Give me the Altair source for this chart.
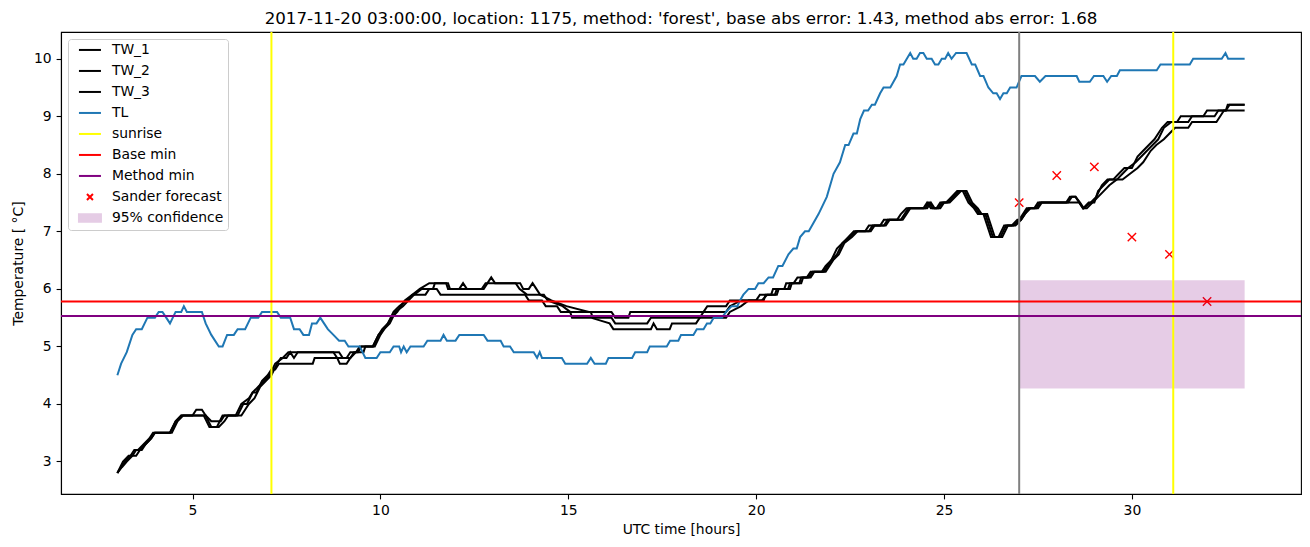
import altair as alt
import pandas as pd

TITLE = "2017-11-20 03:00:00, location: 1175, method: 'forest', base abs error: 1.43, method abs error: 1.68"

# (hour, temperature)
tw1 = [(3.0,2.8),(3.15,3.0),(3.3,3.1),(3.4,3.1),(3.5,3.2),(3.65,3.2),(3.75,3.3),(3.9,3.4),(4.0,3.5),(4.4,3.5),
       (4.55,3.7),(4.7,3.8),(5.0,3.8),(5.1,3.9),(5.25,3.9),(5.35,3.8),(5.5,3.7),(5.75,3.7),(5.85,3.8),(6.15,3.8),
       (6.3,4.0),(6.5,4.1),(6.6,4.2),(6.75,4.3),(6.9,4.4),(7.05,4.5),(7.2,4.7),(7.4,4.8),(7.55,4.9),(8.75,4.9),
       (8.85,4.8),(8.92,4.7),(9.1,4.7),(9.2,4.8),(9.35,4.9),(9.45,5.0),(9.8,5.0),(9.95,5.2),(10.05,5.3),(10.2,5.4),
       (10.35,5.6),(10.5,5.7),(10.7,5.8),(10.85,5.9),(11.05,6.0),(11.3,6.1),(11.8,6.1),(11.85,6.0),(12.1,6.0),(12.2,6.1),
       (12.3,6.0),(12.75,6.0),(12.85,6.1),(12.95,6.2),(13.05,6.1),(13.72,6.1),(13.8,6.0),(13.95,6.0),(14.05,6.1),(14.15,6.0),
       (14.25,5.9),(14.55,5.8),(14.95,5.7),(15.55,5.6),(16.15,5.6),(16.25,5.5),(16.6,5.5),(16.65,5.6),(18.6,5.6),(18.7,5.7),
       (19.2,5.7),(19.3,5.8),(20.2,5.8),(20.25,5.9),(20.5,5.9),(20.55,6.0),(20.85,6.0),(20.9,6.1),(21.15,6.1),(21.2,6.2),
       (21.4,6.2),(21.5,6.3),(21.8,6.3),(21.9,6.4),(22.0,6.5),(22.15,6.6),(22.3,6.8),(22.5,6.9),(22.65,7.0),(23.0,7.0),
       (23.1,7.1),(23.4,7.1),(23.5,7.2),(23.85,7.2),(23.95,7.3),(24.05,7.4),(24.5,7.4),(24.6,7.5),(24.7,7.4),(24.85,7.4),
       (24.95,7.5),(25.1,7.5),(25.25,7.6),(25.4,7.7),(25.55,7.7),(25.7,7.5),(25.85,7.4),(25.95,7.3),(26.1,7.3),(26.3,6.9),
       (26.5,6.9),(26.65,7.1),(26.85,7.1),(27.0,7.2),(27.1,7.3),(27.2,7.4),(27.4,7.4),(27.5,7.5),(28.25,7.5),(28.35,7.6),
       (28.5,7.6),(28.6,7.5),(28.7,7.4),(28.85,7.5),(29.0,7.5),(29.1,7.7),(29.25,7.8),(29.4,7.9),(29.6,7.9),(29.75,8.0),
       (29.9,8.1),(30.1,8.2),(30.25,8.3),(30.4,8.4),(30.55,8.5),(30.7,8.6),(30.85,8.8),(31.05,8.9),(31.5,8.9),(31.6,9.0),
       (32.2,9.0),(32.3,9.1),(32.5,9.1),(32.6,9.2),(33.0,9.2)]

tw2 = [(3.0,2.8),(3.1,2.9),(3.2,3.0),(3.35,3.1),(3.45,3.2),(3.55,3.2),(3.7,3.3),(3.85,3.4),(3.95,3.5),(4.4,3.5),
       (4.55,3.7),(4.7,3.8),(5.3,3.8),(5.45,3.6),(5.65,3.6),(5.8,3.8),(6.2,3.8),(6.35,4.0),(6.45,4.0),(6.6,4.2),
       (6.7,4.2),(6.85,4.4),(7.0,4.5),(7.1,4.6),(7.2,4.6),(7.3,4.7),(8.2,4.7),(8.25,4.8),(9.1,4.8),(9.2,4.9),
       (9.4,4.9),(9.5,5.0),(9.85,5.0),(10.0,5.2),(10.1,5.3),(10.25,5.4),(10.4,5.6),(10.6,5.7),(10.75,5.8),(10.9,5.9),
       (11.1,6.0),(11.4,6.0),(11.45,6.1),(11.75,6.1),(11.8,6.0),(12.7,6.0),(12.8,6.1),(13.6,6.1),(13.7,6.0),(13.9,5.9),
       (14.35,5.9),(14.45,5.8),(14.85,5.7),(15.05,5.6),(15.6,5.6),(15.65,5.5),(16.15,5.5),(16.25,5.4),(17.1,5.4),(17.2,5.5),
       (18.5,5.5),(18.6,5.6),(19.2,5.6),(19.3,5.7),(19.6,5.8),(20.0,5.8),(20.1,5.9),(20.4,5.9),(20.45,6.0),(20.75,6.0),
       (20.8,6.1),(21.0,6.1),(21.1,6.2),(21.35,6.2),(21.45,6.3),(21.75,6.3),(21.85,6.4),(22.0,6.5),(22.15,6.7),(22.3,6.8),
       (22.45,6.9),(22.6,7.0),(22.9,7.0),(23.0,7.1),(23.3,7.1),(23.4,7.2),(23.75,7.2),(23.85,7.3),(24.0,7.4),(24.45,7.4),
       (24.55,7.5),(24.65,7.4),(24.8,7.4),(24.9,7.5),(25.05,7.5),(25.2,7.6),(25.35,7.7),(25.5,7.7),(25.65,7.5),(25.8,7.4),
       (25.9,7.3),(26.05,7.3),(26.25,6.9),(26.45,6.9),(26.6,7.1),(26.8,7.1),(26.95,7.2),(27.05,7.2),(27.15,7.3),(27.25,7.4),
       (27.45,7.4),(27.55,7.5),(28.3,7.5),(28.4,7.6),(28.5,7.6),(28.62,7.5),(28.72,7.4),(28.9,7.5),(29.05,7.6),(29.2,7.8),
       (29.35,7.9),(29.5,7.9),(29.65,8.0),(29.8,8.1),(30.0,8.1),(30.15,8.3),(30.3,8.4),(30.45,8.5),(30.6,8.6),(30.8,8.8),
       (30.95,8.9),(31.2,8.9),(31.3,9.0),(31.9,9.0),(32.0,9.1),(32.5,9.1),(32.55,9.2),(33.0,9.2)]

tw3 = [(3.0,2.8),(3.12,2.9),(3.25,3.0),(3.4,3.1),(3.5,3.1),(3.6,3.2),(3.75,3.3),(3.9,3.4),(4.0,3.5),(4.45,3.5),
       (4.6,3.7),(4.75,3.8),(5.35,3.8),(5.5,3.6),(5.7,3.6),(5.85,3.7),(5.95,3.8),(6.3,3.8),(6.4,3.9),(6.5,4.0),
       (6.65,4.1),(6.8,4.3),(6.95,4.4),(7.1,4.5),(7.25,4.7),(7.35,4.8),(7.5,4.8),(7.6,4.9),(7.7,4.8),(7.8,4.9),
       (8.9,4.9),(9.0,4.8),(9.2,4.8),(9.3,4.9),(9.55,4.9),(9.6,5.0),(9.8,5.0),(9.95,5.2),(10.1,5.3),(10.3,5.5),
       (10.45,5.6),(10.65,5.8),(10.85,5.9),(11.2,5.9),(11.3,6.0),(11.5,6.0),(11.6,5.9),(13.85,5.9),(13.95,5.8),(14.3,5.8),
       (14.4,5.7),(14.7,5.7),(14.8,5.6),(15.05,5.6),(15.1,5.5),(15.6,5.5),(16.1,5.4),(16.2,5.3),(17.2,5.3),(17.27,5.4),
       (17.36,5.3),(17.7,5.3),(17.76,5.4),(18.4,5.4),(18.5,5.5),(19.2,5.5),(19.3,5.6),(19.6,5.7),(19.8,5.8),(20.15,5.8),
       (20.3,5.9),(20.55,5.9),(20.6,6.0),(20.9,6.0),(20.95,6.1),(21.2,6.1),(21.25,6.2),(21.45,6.2),(21.55,6.3),(21.85,6.3),
       (21.95,6.4),(22.05,6.5),(22.2,6.6),(22.35,6.8),(22.55,6.9),(22.7,7.0),(23.05,7.0),(23.15,7.1),(23.45,7.1),(23.55,7.2),
       (23.9,7.2),(24.0,7.3),(24.1,7.4),(24.55,7.4),(24.65,7.5),(24.75,7.4),(24.9,7.4),(25.0,7.5),(25.15,7.5),(25.3,7.6),
       (25.45,7.7),(25.6,7.7),(25.75,7.5),(25.9,7.4),(26.0,7.3),(26.15,7.3),(26.35,6.9),(26.55,6.9),(26.7,7.1),(26.9,7.1),
       (27.05,7.2),(27.15,7.3),(27.3,7.4),(27.5,7.4),(27.6,7.5),(28.6,7.5),(28.7,7.4),(28.8,7.4),(28.95,7.5),(29.1,7.6),
       (29.25,7.7),(29.4,7.8),(29.6,7.9),(29.75,7.9),(29.95,8.0),(30.15,8.1),(30.3,8.2),(30.5,8.4),(30.65,8.5),(30.85,8.6),
       (31.0,8.7),(31.15,8.8),(31.5,8.8),(31.6,8.9),(32.25,8.9),(32.35,9.0),(32.45,9.1),(33.0,9.1)]

tl = [(3.0,4.5),(3.1,4.7),(3.25,4.9),(3.4,5.2),(3.5,5.3),(3.65,5.3),(3.8,5.5),(4.0,5.5),(4.1,5.6),(4.2,5.6),
      (4.3,5.5),(4.4,5.4),(4.55,5.6),(4.7,5.6),(4.77,5.7),(4.85,5.6),(5.25,5.6),(5.35,5.4),(5.5,5.2),(5.7,5.0),
      (5.8,5.0),(5.92,5.2),(6.1,5.2),(6.2,5.3),(6.4,5.3),(6.55,5.5),(6.75,5.5),(6.85,5.6),(7.25,5.6),(7.35,5.5),
      (7.6,5.5),(7.7,5.3),(7.85,5.3),(7.95,5.2),(8.1,5.2),(8.18,5.4),(8.3,5.4),(8.4,5.5),(8.5,5.4),(8.6,5.3),
      (8.75,5.2),(8.9,5.1),(9.05,5.1),(9.15,5.0),(9.45,5.0),(9.6,4.8),(9.9,4.8),(10.0,4.9),(10.25,4.9),(10.35,5.0),
      (10.5,5.0),(10.55,4.9),(10.62,5.0),(10.7,4.9),(10.8,5.0),(11.15,5.0),(11.25,5.1),(11.6,5.1),(11.68,5.2),(11.77,5.1),
      (12.0,5.1),(12.1,5.2),(12.75,5.2),(12.85,5.1),(13.2,5.1),(13.28,5.0),(13.45,5.0),(13.55,4.9),(14.08,4.9),(14.17,4.8),
      (14.24,4.9),(14.3,4.8),(14.83,4.8),(14.92,4.7),(15.5,4.7),(15.6,4.8),(15.7,4.7),(16.0,4.7),(16.07,4.8),(16.7,4.8),
      (16.78,4.9),(17.1,4.9),(17.17,5.0),(17.62,5.0),(17.71,5.1),(17.93,5.1),(18.0,5.2),(18.33,5.2),(18.42,5.3),(18.6,5.3),
      (18.69,5.4),(18.78,5.4),(18.87,5.5),(19.09,5.5),(19.2,5.6),(19.35,5.7),(19.5,5.7),(19.57,5.8),(19.66,5.9),(19.8,6.0),
      (19.97,6.0),(20.06,6.1),(20.2,6.1),(20.33,6.2),(20.45,6.2),(20.59,6.4),(20.7,6.4),(20.86,6.6),(20.99,6.7),(21.08,6.7),
      (21.17,6.9),(21.3,7.0),(21.4,7.0),(21.66,7.3),(21.88,7.6),(22.06,8.0),(22.23,8.2),(22.37,8.5),(22.46,8.5),(22.59,8.7),
      (22.68,8.7),(22.77,8.95),(22.87,9.1),(22.98,9.1),(23.08,9.2),(23.16,9.2),(23.3,9.4),(23.39,9.5),(23.57,9.5),(23.74,9.7),
      (23.83,9.9),(23.92,9.9),(24.1,10.1),(24.18,10.0),(24.27,10.0),(24.36,10.1),(24.45,10.1),(24.54,10.0),(24.67,10.0),(24.76,9.9),
      (24.85,9.9),(24.94,10.0),(25.03,10.0),(25.11,10.1),(25.2,10.0),(25.32,10.1),(25.6,10.1),(25.74,9.9),(25.83,9.9),(25.96,9.7),
      (26.05,9.7),(26.18,9.5),(26.31,9.4),(26.4,9.4),(26.49,9.3),(26.58,9.4),(26.67,9.4),(26.76,9.5),(26.93,9.5),(27.06,9.7),
      (27.42,9.7),(27.55,9.6),(27.7,9.7),(28.53,9.7),(28.6,9.6),(28.88,9.6),(28.99,9.7),(29.24,9.7),(29.34,9.6),(29.45,9.7),
      (29.6,9.7),(29.68,9.8),(30.66,9.8),(30.76,9.9),(31.54,9.9),(31.63,10.0),(32.39,10.0),(32.49,10.1),(32.56,10.0),(33.0,10.0)]

sunrise_hours = [7.1, 31.1]
now_hour = [27.0]
base_min = [5.78]
method_min = [5.53]
sander_t = [27, 28, 29, 30, 31, 32]
sander_v = [7.5, 7.97, 8.12, 6.9, 6.6, 5.78]
conf_start = [27.0]
conf_end = [33.0]
conf_lo = [4.27]
conf_hi = [6.15]

legend_labels = ["TW_1", "TW_2", "TW_3", "TL", "sunrise", "Base min", "Method min",
                 "Sander forecast", "95% confidence"]

FONT = "DejaVu Sans"
LINE = "M-2.2,0L2.2,0"
XMARK = "M-0.6,-0.6L0.6,0.6M0.6,-0.6L-0.6,0.6"
PATCH = "M-2.2,-0.75L2.2,-0.75L2.2,0.75L-2.2,0.75Z"
CONF_COLOR = "#e5cce5"

rows = []
for name, series, col in [("TW_1", tw1, "black"), ("TW_2", tw2, "black"),
                          ("TW_3", tw3, "black"), ("TL", tl, "#1f77b4")]:
    for t, v in series:
        rows.append({"series": name, "t": t, "v": v, "color": col})
lines_df = pd.DataFrame(rows)

xscale = alt.Scale(domain=[1.5, 34.5], nice=False, zero=False)
yscale = alt.Scale(domain=[2.435, 10.465], nice=False, zero=False)
xaxis = alt.Axis(title="UTC time [hours]", values=[5, 10, 15, 20, 25, 30], format="d")
yaxis = alt.Axis(title="Temperature [ °C]", values=[3, 4, 5, 6, 7, 8, 9, 10], format="d")

X = alt.X("t:Q", scale=xscale, axis=xaxis)
Y = alt.Y("v:Q", scale=yscale, axis=yaxis)

sander = alt.Chart(pd.DataFrame({"t": sander_t, "v": sander_v})).mark_point(
    shape="M-1,-1L1,1M1,-1L-1,1", size=70, strokeWidth=1.4, filled=False, color="red", opacity=1
).encode(x=X, y=Y)

conf = alt.Chart(pd.DataFrame({"t": conf_start, "t2": conf_end, "v": conf_lo, "v2": conf_hi})).mark_rect(
    color="#800080", opacity=0.2
).encode(x=X, x2="t2:Q", y=Y, y2="v2:Q")

lines = alt.Chart(lines_df).mark_line(strokeWidth=2).encode(
    x=X, y=Y, detail="series:N", stroke=alt.Stroke("color:N", scale=None)
)

sun = alt.Chart(pd.DataFrame({"t": sunrise_hours})).mark_rule(color="yellow", strokeWidth=2).encode(x=X)
now = alt.Chart(pd.DataFrame({"t": now_hour})).mark_rule(color="gray", strokeWidth=2).encode(x=X)
base = alt.Chart(pd.DataFrame({"v": base_min})).mark_rule(color="red", strokeWidth=2).encode(y=Y)
meth = alt.Chart(pd.DataFrame({"v": method_min})).mark_rule(color="purple", strokeWidth=2).encode(y=Y)

leg = alt.Legend(title=None, orient="top-left", offset=7, padding=4, symbolSize=100,
                 symbolStrokeWidth=2, labelFont=FONT, labelFontSize=13.9, labelColor="black",
                 labelOffset=15, symbolOffset=11, rowPadding=6, strokeColor="#cccccc",
                 fillColor="white", cornerRadius=3)
legend_layer = alt.Chart(pd.DataFrame({"label": legend_labels})).transform_filter("false").mark_point(
    filled=True, opacity=1
).encode(
    fill=alt.Fill("label:N", scale=alt.Scale(domain=legend_labels,
                  range=["transparent"] * 8 + [CONF_COLOR]), legend=leg),
    stroke=alt.Stroke("label:N", scale=alt.Scale(domain=legend_labels,
                  range=["black", "black", "black", "#1f77b4", "yellow", "red", "purple", "red", CONF_COLOR]),
                  legend=leg),
    shape=alt.Shape("label:N", scale=alt.Scale(domain=legend_labels,
                  range=[LINE] * 7 + [XMARK, PATCH]), legend=leg),
)

chart = alt.layer(sander, conf, lines, sun, now, base, meth, legend_layer).properties(
    width=1240, height=462,
    title=alt.TitleParams(TITLE, font=FONT, fontSize=16.7, fontWeight="normal", color="black",
                          anchor="middle", offset=3),
    autosize=alt.AutoSizeParams(type="none"),
    padding={"left": 53, "top": 24, "right": 1, "bottom": 45},
).configure_view(stroke="black", strokeWidth=1.1).configure_axis(
    grid=False, domainColor="black", domainWidth=1.1, tickColor="black", tickWidth=1.1,
    tickSize=4.9, labelPadding=4.9, labelFont=FONT, labelFontSize=13.9, labelColor="black",
    titleFont=FONT, titleFontSize=13.9, titleFontWeight="normal", titleColor="black"
).configure_axisY(titlePadding=8).configure_axisX(titlePadding=5)

chart.save("out.html", embed_options={"renderer": "svg", "actions": False})
